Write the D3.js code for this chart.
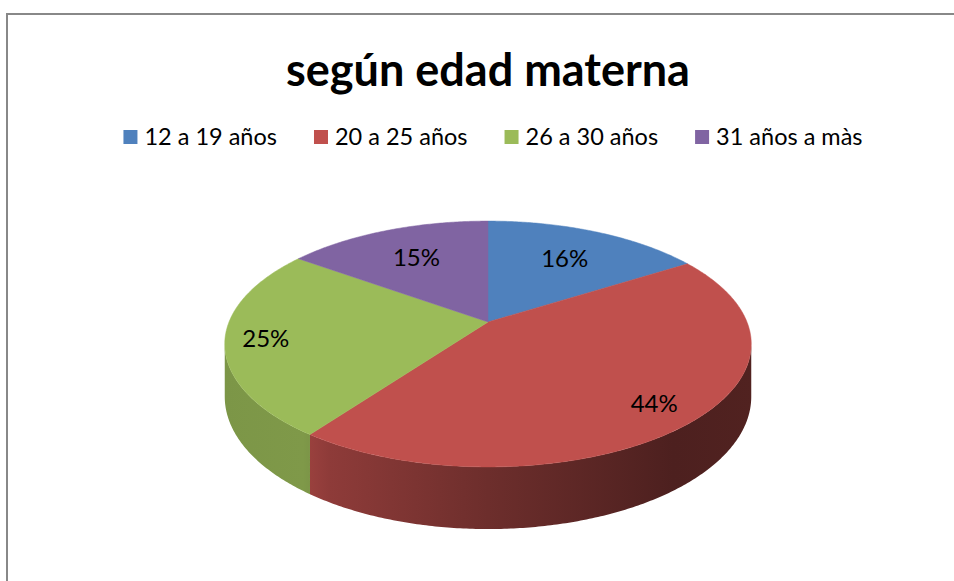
<!DOCTYPE html>
<html>
<head>
<meta charset="utf-8">
<script src="https://cdn.jsdelivr.net/npm/d3@7"></script>
<style>
  body { margin: 0; background: #fff; }
  svg { display: block; }
</style>
</head>
<body>
<div id="container"></div>
<script>
let w = 954;
let h = 581;

// data
let categories = ["12 a 19 años", "20 a 25 años", "26 a 30 años", "31 años a màs"];
let shares = [16, 44, 25, 15];
let sliceColors = ["#4f81bd", "#c0504d", "#9bbb59", "#8064a2"];
let titleText = "según edad materna";

let font = "Lato, 'Open Sans', sans-serif";

let viz = d3.select("#container").append("svg")
    .attr("width", w)
    .attr("height", h)
;
let defs = viz.append("defs");

// chart frame (runs off the right / bottom like the screenshot)
viz.append("rect")
  .attr("x", 7).attr("y", 14)
  .attr("width", w + 20).attr("height", h + 20)
  .attr("fill", "#fff")
  .attr("stroke", "#888888")
  .attr("stroke-width", 2)
;

let color = d3.scaleOrdinal().domain(categories).range(sliceColors);

// pie geometry, tilted with a bit of perspective (far side smaller)
let cx = 488, cy = 322, R = 259, Rz = 119, k = 0.179, depth = 51;
function scaleAt(a, f){ return 1 / (1 + k * f * Math.cos(a)); }
function proj(a, f){
  let s = scaleAt(a, f);
  return [cx + R * f * Math.sin(a) * s, cy - Rz * f * Math.cos(a) * s];
}
function arcPoints(a0, a1){
  let n = Math.max(2, Math.ceil((a1 - a0) / 0.01));
  return d3.range(n + 1).map(i => a0 + (a1 - a0) * i / n);
}
let line = d3.line();

let pie = d3.pie().sort(null).value(d => d.value);
let slices = pie(categories.map((c, i) => ({cat: c, value: shares[i]})));

// side wall is visible between the two widest points of the ellipse
let aRight = Math.acos(-k);
let aLeft = 2 * Math.PI - aRight;

function shade(col, m){
  let c = d3.rgb(col);
  return d3.rgb(c.r * m, c.g * m, c.b * m).toString();
}
let shadeStops = [[0, 0.80], [0.15, 0.82], [0.2, 0.74], [0.5, 0.57], [0.85, 0.40], [1, 0.42]];

slices.forEach((d, i) => {
  let g = defs.append("linearGradient")
    .attr("id", "side" + i)
    .attr("gradientUnits", "userSpaceOnUse")
    .attr("x1", cx - R * 1.02).attr("x2", cx + R * 1.02)
    .attr("y1", 0).attr("y2", 0);
  shadeStops.forEach(s => {
    g.append("stop").attr("offset", s[0]).attr("stop-color", shade(color(d.data.cat), s[1]));
  });
});

// sides first
let sideGroup = viz.append("g").classed("sides", true);
slices.forEach((d, i) => {
  let a0 = Math.max(d.startAngle, aRight);
  let a1 = Math.min(d.endAngle, aLeft);
  if (a1 <= a0) return;
  let angs = arcPoints(a0, a1);
  let top = angs.map(a => proj(a, 1));
  let bottom = angs.slice().reverse().map(a => {
    let p = proj(a, 1);
    return [p[0], p[1] + depth * scaleAt(a, 1)];
  });
  sideGroup.append("path")
    .attr("d", line(top.concat(bottom)) + "Z")
    .attr("fill", "url(#side" + i + ")");
});

// top faces
let topGroup = viz.append("g").classed("tops", true);
topGroup.selectAll("path")
  .data(slices)
  .enter()
  .append("path")
  .attr("d", d => line([[cx, cy]].concat(arcPoints(d.startAngle, d.endAngle).map(a => proj(a, 1)))) + "Z")
  .attr("fill", d => color(d.data.cat))
  .attr("stroke", d => color(d.data.cat))
  .attr("stroke-width", 0.5)
;

// percentage labels: pushed in from the rim along the centre line
let labelSize = 24;
topGroup.selectAll("text")
  .data(slices)
  .enter()
  .append("text")
  .text(d => d.data.value + "%")
  .attr("font-family", font)
  .attr("font-size", labelSize)
  .attr("fill", "#000")
  .attr("text-anchor", "middle")
  .attr("dy", "0.36em")
  .each(function(d){
    let mid = (d.startAngle + d.endAngle) / 2;
    let e = proj(mid, 1);
    let ux = e[0] - cx, uy = e[1] - cy;
    let len = Math.hypot(ux, uy);
    ux /= len; uy /= len;
    let hw = this.getComputedTextLength() / 2, hh = labelSize * 0.36;
    let t = 17 + Math.abs(ux) * hw + Math.abs(uy) * hh;
    d3.select(this).attr("x", e[0] - t * ux).attr("y", e[1] - t * uy);
  })
;

// title
viz.append("text")
  .text(titleText)
  .attr("x", 488).attr("y", 86)
  .attr("text-anchor", "middle")
  .attr("font-family", font)
  .attr("font-weight", "bold")
  .attr("font-size", 45)
  .attr("fill", "#000")
;

// legend
let legend = viz.append("g").classed("legend", true);
let items = legend.selectAll("g")
  .data(categories)
  .enter()
  .append("g");
items.append("rect")
  .attr("width", 14).attr("height", 14)
  .attr("y", -15)
  .attr("fill", d => color(d));
items.append("text")
  .text(d => d)
  .attr("x", 21)
  .attr("font-family", font)
  .attr("font-size", 23.5)
  .attr("fill", "#000");
let xpos = 0;
items.each(function(){
  let tw = d3.select(this).select("text").node().getComputedTextLength();
  d3.select(this).attr("transform", "translate(" + xpos + ",0)");
  xpos += 21 + tw + 37;
});
let legendWidth = xpos - 37;
legend.attr("transform", "translate(" + (493 - legendWidth / 2) + ",145)");
</script>
</body>
</html>
